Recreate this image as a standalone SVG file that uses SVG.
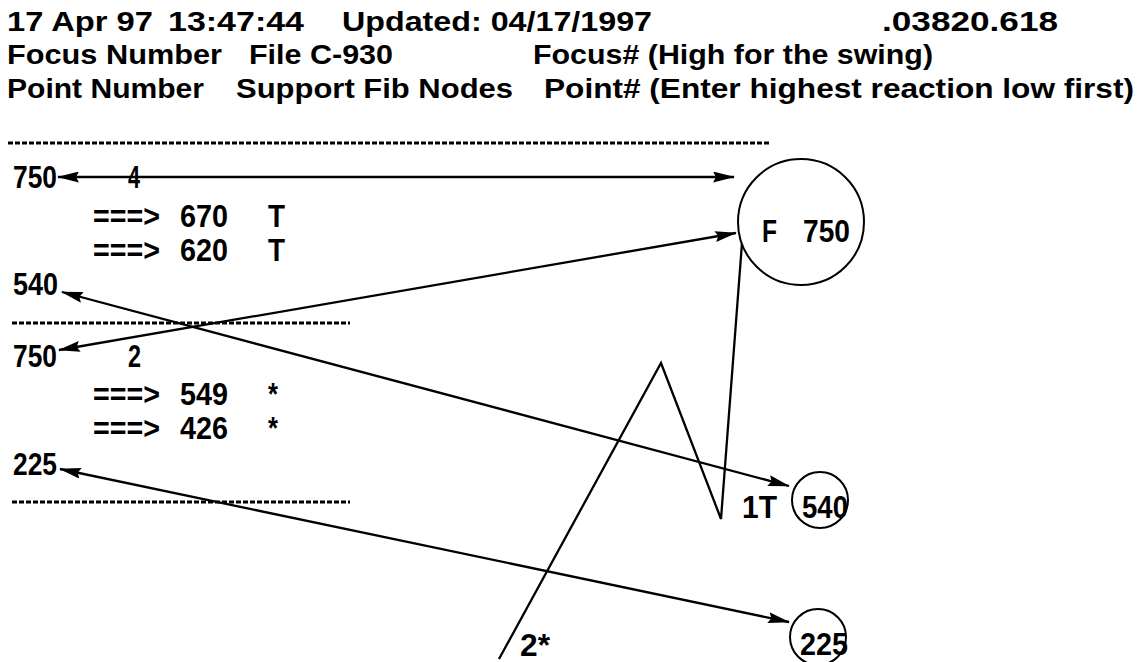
<svg xmlns="http://www.w3.org/2000/svg" width="1139" height="662" viewBox="0 0 1139 662">
<style>
.hdr{font-family:"Liberation Sans",Arial,sans-serif;font-weight:bold;font-size:27px;fill:#000}
.lbl{font-family:"Liberation Sans",Arial,sans-serif;font-weight:bold;font-size:31px;fill:#000}
.ln{stroke:#000;stroke-width:2.3;fill:none}
.dash{stroke:#000;stroke-width:3;stroke-dasharray:5 2;fill:none}
.node{fill:#fff;stroke:#000;stroke-width:2}
</style>
<defs>
<marker id="ah" viewBox="0 0 22 11" refX="21" refY="5.5" markerWidth="22" markerHeight="11" markerUnits="userSpaceOnUse" orient="auto-start-reverse">
<path d="M0,0 L22,5.5 L0,11 L3,5.5 Z" fill="#000"/>
</marker>
</defs>
<rect width="1139" height="662" fill="#fff"/>
<g id="header">
<text class="hdr" x="7" y="31" textLength="146" lengthAdjust="spacingAndGlyphs">17 Apr 97</text>
<text class="hdr" x="168" y="31" textLength="136" lengthAdjust="spacingAndGlyphs">13:47:44</text>
<text class="hdr" x="342" y="31" textLength="310" lengthAdjust="spacingAndGlyphs">Updated: 04/17/1997</text>
<text class="hdr" x="882" y="31" textLength="176" lengthAdjust="spacingAndGlyphs">.03820.618</text>
<text class="hdr" x="7" y="64" textLength="215" lengthAdjust="spacingAndGlyphs">Focus Number</text>
<text class="hdr" x="249" y="64" textLength="144" lengthAdjust="spacingAndGlyphs">File C-930</text>
<text class="hdr" x="533" y="64" textLength="400" lengthAdjust="spacingAndGlyphs">Focus# (High for the swing)</text>
<text class="hdr" x="7" y="98" textLength="197" lengthAdjust="spacingAndGlyphs">Point Number</text>
<text class="hdr" x="236" y="98" textLength="277" lengthAdjust="spacingAndGlyphs">Support Fib Nodes</text>
<text class="hdr" x="544" y="98" textLength="590" lengthAdjust="spacingAndGlyphs">Point# (Enter highest reaction low first)</text>
</g>
<g id="separators">
<line class="dash" x1="8" y1="143" x2="771" y2="143"/>
<line class="dash" x1="12" y1="323" x2="350" y2="323"/>
<line class="dash" x1="12" y1="502" x2="350" y2="502"/>
</g>
<g id="connectors">
<line class="ln" x1="58" y1="177" x2="734" y2="177" marker-start="url(#ah)" marker-end="url(#ah)"/>
<line class="ln" x1="62" y1="292" x2="789" y2="486" marker-start="url(#ah)" marker-end="url(#ah)"/>
<line class="ln" x1="59" y1="350" x2="736" y2="233" marker-start="url(#ah)" marker-end="url(#ah)"/>
<line class="ln" x1="60" y1="469" x2="789" y2="622" marker-start="url(#ah)" marker-end="url(#ah)"/>
<polyline class="ln" stroke-width="2.6" points="499,659 661,363 721,519 742,243"/>
</g>
<g id="list">
<text class="lbl" x="13" y="188" textLength="44" lengthAdjust="spacingAndGlyphs">750</text>
<text class="lbl" x="128" y="188" textLength="12" lengthAdjust="spacingAndGlyphs">4</text>
<text class="lbl" x="93" y="227" textLength="67" lengthAdjust="spacingAndGlyphs">===&gt;</text>
<text class="lbl" x="180" y="227" textLength="48" lengthAdjust="spacingAndGlyphs">670</text>
<text class="lbl" x="268" y="227" textLength="17" lengthAdjust="spacingAndGlyphs">T</text>
<text class="lbl" x="93" y="261" textLength="67" lengthAdjust="spacingAndGlyphs">===&gt;</text>
<text class="lbl" x="180" y="261" textLength="48" lengthAdjust="spacingAndGlyphs">620</text>
<text class="lbl" x="268" y="261" textLength="17" lengthAdjust="spacingAndGlyphs">T</text>
<text class="lbl" x="13" y="295" textLength="45" lengthAdjust="spacingAndGlyphs">540</text>
<text class="lbl" x="13" y="367" textLength="44" lengthAdjust="spacingAndGlyphs">750</text>
<text class="lbl" x="128" y="367" textLength="13" lengthAdjust="spacingAndGlyphs">2</text>
<text class="lbl" x="93" y="405" textLength="67" lengthAdjust="spacingAndGlyphs">===&gt;</text>
<text class="lbl" x="180" y="405" textLength="48" lengthAdjust="spacingAndGlyphs">549</text>
<text class="lbl" x="268" y="405" textLength="10" lengthAdjust="spacingAndGlyphs">*</text>
<text class="lbl" x="93" y="439" textLength="67" lengthAdjust="spacingAndGlyphs">===&gt;</text>
<text class="lbl" x="180" y="439" textLength="48" lengthAdjust="spacingAndGlyphs">426</text>
<text class="lbl" x="268" y="439" textLength="10" lengthAdjust="spacingAndGlyphs">*</text>
<text class="lbl" x="13" y="475" textLength="44" lengthAdjust="spacingAndGlyphs">225</text>
</g>
<g id="node-f750">
<circle class="node" cx="801" cy="222" r="63"/>
<text class="lbl" x="762" y="242" textLength="15" lengthAdjust="spacingAndGlyphs">F</text>
<text class="lbl" x="803" y="242" textLength="47" lengthAdjust="spacingAndGlyphs">750</text>
</g>
<g id="node-540">
<circle class="node" cx="820" cy="500" r="28"/>
<text class="lbl" x="742" y="518" textLength="35" lengthAdjust="spacingAndGlyphs">1T</text>
<text class="lbl" x="802" y="518" textLength="46" lengthAdjust="spacingAndGlyphs">540</text>
</g>
<g id="node-225">
<circle class="node" cx="818" cy="637" r="28"/>
<text class="lbl" x="800" y="655" textLength="48" lengthAdjust="spacingAndGlyphs">225</text>
</g>
<g id="label-2star">
<text class="lbl" x="520" y="656" font-size="28" textLength="30" lengthAdjust="spacingAndGlyphs">2*</text>
</g>
</svg>
